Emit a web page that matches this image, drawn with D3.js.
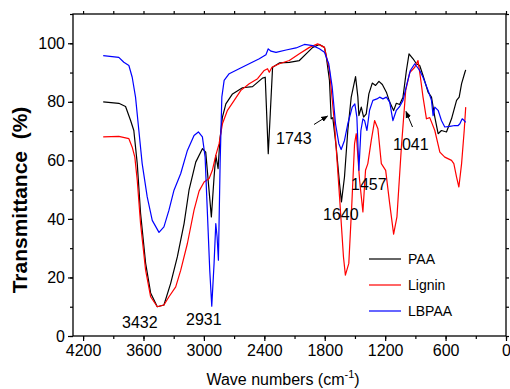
<!DOCTYPE html>
<html>
<head>
<meta charset="utf-8">
<script src="https://cdn.jsdelivr.net/npm/d3@7"></script>
<style>
  body { margin: 0; background: #fff; }
  svg { font-family: Arial, "Liberation Sans", sans-serif; }
  .tick text { font-size: 16px; fill: #000; }
</style>
</head>
<body>
<svg id="chart" width="510" height="389"></svg>
<script>
// FTIR spectra (wavenumber cm-1, transmittance %)
const paaWave = [4000, 3845, 3778, 3728, 3696, 3662, 3629, 3579, 3529, 3463, 3397, 3330, 3264, 3197, 3148, 3081, 3015, 2982, 2926, 2899, 2882, 2859, 2842, 2816, 2782, 2716, 2617, 2517, 2418, 2391, 2361, 2341, 2318, 2251, 2152, 2052, 1985, 1919, 1853, 1803, 1786, 1753, 1736, 1720, 1686, 1653, 1634, 1604, 1571, 1537, 1494, 1471, 1461, 1437, 1414, 1388, 1362, 1328, 1295, 1262, 1228, 1188, 1155, 1116, 1089, 1056, 1023, 989, 963, 923, 890, 857, 824, 774, 740, 707, 674, 641, 591, 541, 491, 465, 441, 408, 400];
const paaT    = [80, 79.5, 78.4, 73.6, 70.2, 58.9, 41.9, 24.9, 14.7, 10, 10.6, 18, 27, 38.4, 49.8, 59.4, 64, 62.8, 40.7, 54.3, 61.7, 57.2, 66.8, 74.8, 79.3, 82.7, 84.8, 85.2, 88.1, 88.4, 62.3, 75.9, 91.8, 93.3, 93.5, 94.1, 96.4, 98.6, 99.6, 98.6, 95.8, 87.3, 74.2, 74.6, 64.5, 52, 45.8, 54.3, 70.2, 81.6, 88.6, 81.6, 75.3, 78.2, 74.8, 75.9, 82.7, 86.4, 85.6, 87, 85.9, 83.3, 79.9, 77, 79.5, 79.1, 81.6, 90.7, 96.4, 94.7, 93, 92.4, 89, 83.3, 81.6, 74.8, 69.1, 70.2, 69.7, 74.2, 80.5, 81.6, 86.2, 90.1, 90.9];

const ligninWave = [4000, 3845, 3745, 3712, 3686, 3662, 3629, 3579, 3529, 3463, 3397, 3347, 3280, 3230, 3164, 3098, 3048, 2998, 2948, 2916, 2882, 2849, 2816, 2766, 2699, 2633, 2550, 2467, 2401, 2368, 2351, 2324, 2251, 2152, 2052, 1952, 1870, 1803, 1753, 1703, 1653, 1614, 1595, 1561, 1531, 1504, 1487, 1454, 1421, 1395, 1372, 1338, 1305, 1272, 1238, 1195, 1155, 1116, 1083, 1039, 996, 956, 906, 874, 850, 824, 790, 757, 707, 657, 608, 541, 518, 491, 468, 441, 415, 400];
const ligninT    = [68, 68.2, 67.4, 64.5, 61.1, 53.2, 38.4, 22.5, 13.4, 10, 10.6, 13.4, 16.8, 22.5, 31.6, 43, 49.5, 52.6, 53.8, 56.6, 61.7, 65.7, 72.5, 77.1, 80.5, 83.9, 86.2, 87.9, 90.7, 91.3, 90.1, 91.8, 93, 94.1, 96.4, 98.6, 99.8, 98.6, 90.7, 72.5, 47.5, 27, 20.8, 24.8, 45.2, 65.7, 69.1, 53.2, 42.4, 56.6, 58.9, 66.8, 73.6, 70.8, 58.9, 56.6, 45.2, 34.8, 40.7, 64.5, 83.9, 90, 91.8, 94.1, 88.4, 81.6, 74.2, 74.6, 70.2, 62.8, 61.1, 60, 58.9, 54.3, 50.9, 58.9, 70.2, 78.2];

const lbpaaWave = [4000, 3845, 3795, 3745, 3712, 3679, 3646, 3613, 3563, 3513, 3446, 3397, 3347, 3297, 3230, 3164, 3098, 3055, 3015, 2988, 2965, 2942, 2922, 2899, 2882, 2869, 2856, 2839, 2822, 2799, 2749, 2650, 2550, 2450, 2384, 2361, 2334, 2284, 2184, 2085, 2002, 1919, 1853, 1803, 1760, 1726, 1693, 1660, 1637, 1604, 1571, 1527, 1501, 1481, 1461, 1441, 1421, 1404, 1381, 1355, 1322, 1282, 1255, 1222, 1188, 1155, 1123, 1089, 1056, 1023, 983, 950, 906, 857, 824, 774, 740, 724, 707, 674, 641, 608, 558, 508, 475, 458, 435, 415, 400];
const lbpaaT    = [95.8, 95.2, 93.5, 92.4, 88.4, 81.6, 70.2, 58.9, 47.5, 39.5, 35.4, 37.3, 43, 49.8, 55.5, 63.4, 68.5, 69.7, 68, 61.1, 41.8, 22.5, 10.2, 24.8, 38.4, 33.9, 25.9, 58.9, 81.6, 87.3, 89.6, 91.3, 93, 94.7, 96.1, 98.1, 97.3, 96.9, 97.7, 98.4, 99.6, 99.2, 98.1, 96.9, 93, 85, 72.5, 65.7, 63.7, 66.8, 72.5, 78.2, 79.3, 74.8, 56.6, 70.2, 74.2, 73.6, 70.2, 77.1, 80.5, 81, 81.6, 81, 81.6, 79.9, 73.6, 77.1, 78.4, 80.5, 86.2, 90.7, 93, 90.7, 88.4, 83.9, 80.5, 75.3, 78.2, 77.1, 73.6, 71.4, 71.6, 71.9, 71.9, 72.5, 74.2, 73.6, 73];

const seriesNames  = ["PAA", "Lignin", "LBPAA"];
const seriesColors = ["#000000", "#ff0000", "#0000ff"];
const xTicks = [4200, 3600, 3000, 2400, 1800, 1200, 600, 0];
const yTicks = [0, 20, 40, 60, 80, 100];

// peak labels: wavenumber text
const peakLabels = ["3432", "2931", "1743", "1640", "1457", "1041"];

const svg = d3.select("#chart");
const margin = { left: 73, right: 4, top: 14, bottom: 53 };
const W = 510, H = 389;

const x = d3.scaleLinear().domain([4300, 0]).range([margin.left, W - margin.right]);
const y = d3.scaleLinear().domain([0, 110]).range([H - margin.bottom, margin.top]);

const xMinor = d3.range(4200, -1, -300);
const yMinor = d3.range(0, 111, 10);

// frame
svg.append("rect")
  .attr("x", margin.left).attr("y", margin.top)
  .attr("width", x(0) - margin.left).attr("height", y(0) - margin.top)
  .attr("fill", "none").attr("stroke", "#000").attr("stroke-width", 1.3);

function styleAxis(g) {
  g.select(".domain").remove();
  g.selectAll(".tick line").attr("stroke", "#000").attr("stroke-width", 1.2);
}

// minor ticks first, then majors with labels
svg.append("g").attr("transform", `translate(0,${y(0)})`)
  .call(d3.axisBottom(x).tickValues(xMinor).tickSize(3).tickFormat(""))
  .call(styleAxis);
svg.append("g").attr("transform", `translate(0,${y(0)})`)
  .call(d3.axisBottom(x).tickValues(xTicks).tickSize(5).tickPadding(4).tickFormat(d3.format("d")))
  .call(styleAxis);
svg.append("g").attr("transform", `translate(0,${margin.top})`)
  .call(d3.axisTop(x).tickValues(xMinor).tickSize(3).tickFormat(""))
  .call(styleAxis);

svg.append("g").attr("transform", `translate(${margin.left},0)`)
  .call(d3.axisLeft(y).tickValues(yMinor).tickSize(3).tickFormat(""))
  .call(styleAxis);
svg.append("g").attr("transform", `translate(${margin.left},0)`)
  .call(d3.axisLeft(y).tickValues(yTicks).tickSize(5).tickPadding(3))
  .call(styleAxis);
svg.append("g").attr("transform", `translate(${x(0)},0)`)
  .call(d3.axisRight(y).tickValues(yMinor).tickSize(3).tickFormat(""))
  .call(styleAxis);

// spectra
const allWave = [paaWave, ligninWave, lbpaaWave];
const allT = [paaT, ligninT, lbpaaT];
const line = d3.line().x(d => x(d[0])).y(d => y(d[1]));

allWave.forEach((ws, i) => {
  const pts = ws.map((w, j) => [w, allT[i][j]]);
  svg.append("path")
    .datum(pts)
    .attr("d", line)
    .attr("fill", "none")
    .attr("stroke", seriesColors[i])
    .attr("stroke-width", 1.2)
    .attr("stroke-linejoin", "round");
});

// axis titles
svg.append("text")
  .attr("transform", `translate(27,200) rotate(-90)`)
  .attr("text-anchor", "middle")
  .attr("font-size", 21).attr("font-weight", "bold")
  .style("white-space", "pre")
  .text("Transmittance  (%)");

const xl = svg.append("text")
  .attr("x", 283).attr("y", 385)
  .attr("text-anchor", "middle")
  .attr("font-size", 16);
xl.append("tspan").text("Wave numbers (cm");
xl.append("tspan").attr("font-size", 11).attr("dy", -7).text("-1");
xl.append("tspan").attr("dy", 7).text(")");

// peak annotations
const labelPos = [[122, 328], [186, 325], [276, 143.5], [323, 220], [351, 190], [393, 149.5]];
peakLabels.forEach((t, i) => {
  svg.append("text")
    .attr("x", labelPos[i][0]).attr("y", labelPos[i][1])
    .attr("font-size", 16)
    .text(t);
});

svg.append("defs").append("marker")
  .attr("id", "head").attr("viewBox", "0 0 10 10")
  .attr("refX", 9).attr("refY", 5)
  .attr("markerWidth", 7).attr("markerHeight", 7)
  .attr("orient", "auto")
  .append("path").attr("d", "M0,1 L10,5 L0,9 Z").attr("fill", "#000");

[[314, 124.5, 327.5, 116], [412.5, 127, 406, 111.5]].forEach(a => {
  svg.append("line")
    .attr("x1", a[0]).attr("y1", a[1]).attr("x2", a[2]).attr("y2", a[3])
    .attr("stroke", "#000").attr("stroke-width", 1)
    .attr("marker-end", "url(#head)");
});

// legend
const legend = svg.append("g");
seriesNames.forEach((n, i) => {
  const ly = 259 + i * 26;
  legend.append("line")
    .attr("x1", 369).attr("x2", 401).attr("y1", ly).attr("y2", ly)
    .attr("stroke", seriesColors[i]).attr("stroke-width", 1.2);
  legend.append("text")
    .attr("x", 408).attr("y", ly + 5)
    .attr("font-size", 14)
    .text(n);
});
</script>
</body>
</html>
